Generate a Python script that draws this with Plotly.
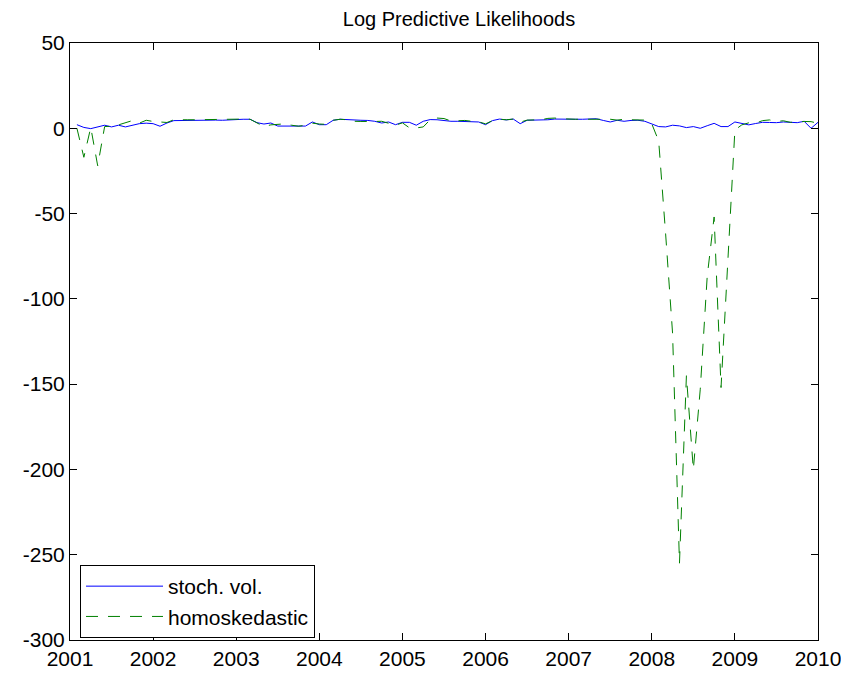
import plotly.graph_objects as go

# Monthly observations, Feb 2001 .. Jan 2010 (index k = 1..108 months after Jan 2001)
months = list(range(1, 109))
dates = [2001 + k / 12 for k in months]

stoch_vol = [
    2.1, 0.5, -0.2, 0.6, 1.8, 0.8, 1.8, 0.8, 1.8, 2.7, 3.0, 2.7,
    1.2, 3.1, 4.5, 4.6, 4.7, 4.8, 4.9, 4.9, 4.8, 4.7, 5.0, 5.2,
    5.3, 5.3, 3.3, 2.5, 3.1, 1.3, 1.2, 1.2, 1.2, 1.3, 3.7, 2.1,
    2.1, 4.7, 5.3, 5.0, 4.7, 4.7, 4.6, 4.1, 3.1, 3.7, 2.1, 3.5,
    3.5, 1.8, 4.1, 5.1, 5.0, 4.5, 4.1, 4.1, 4.1, 4.0, 3.7, 2.1,
    4.5, 5.4, 4.9, 5.4, 2.7, 4.7, 4.7, 4.7, 5.0, 5.4, 5.5, 5.4,
    5.3, 5.3, 5.3, 5.6, 4.6, 3.7, 4.7, 4.1, 4.6, 4.7, 4.1, 2.5,
    1.0, 0.8, 1.8, 1.4, 0.4, 1.0, 0.0, 1.5, 2.9, 1.0, 1.0, 3.7,
    2.9, 2.0, 2.8, 3.5, 3.4, 3.3, 3.7, 3.4, 3.3, 4.1, 0.0, 3.5,
]

homoskedastic = [
    0.0, -17.0, 0.5, -22.0, 1.0, 1.2, 2.0, 3.2, 4.5, 3.0, 4.7, 4.0,
    3.5, 3.4, 5.0, 4.8, 5.0, 5.0, 5.1, 5.0, 5.0, 5.2, 5.5, 5.5,
    5.4, 5.3, 3.0, 1.0, 2.0, 2.2, 2.6, 1.8, 1.2, 1.8, 3.0, 2.5,
    2.3, 4.7, 5.3, 5.0, 4.1, 4.0, 3.8, 4.0, 4.1, 3.0, 1.8, 3.2,
    0.3, 0.2, 0.8, 5.0, 6.0, 5.7, 4.3, 4.4, 4.6, 4.1, 3.8, 2.6,
    4.5, 5.3, 5.0, 5.4, 3.6, 4.8, 4.8, 5.0, 5.8, 6.0, 5.6, 5.3,
    5.3, 5.3, 5.3, 5.5, 5.3, 5.3, 4.8, 5.3, 5.0, 4.8, 4.8, 2.6,
    -7.5, -62.0, -120.0, -255.0, -145.0, -200.0, -153.0, -87.0, -52.0, -152.0, -78.0, -1.0,
    2.0, 3.2, 3.0, 4.5, 4.9, 4.0, 4.4, 3.5, 3.6, 4.0, 3.9, 2.9,
]

year_ticks = [2001, 2002, 2003, 2004, 2005, 2006, 2007, 2008, 2009, 2010]
y_ticks = [-300, -250, -200, -150, -100, -50, 0, 50]

FONT = "Liberation Sans, Arial, Helvetica, sans-serif"

# The page body adds an 8px margin; the figure origin sits at (8, 8) in the window.
FIG_W, FIG_H = 841, 662

fig = go.Figure()
fig.add_trace(go.Scatter(
    x=dates, y=stoch_vol, mode="lines", name="stoch. vol.",
    line=dict(color="#0000FF", width=1),
))
fig.add_trace(go.Scatter(
    x=dates, y=homoskedastic, mode="lines", name="homoskedastic",
    line=dict(color="#008000", width=1, dash="12px,10px"),
))

axis_common = dict(
    showline=True, linecolor="black", linewidth=1, mirror="ticks",
    ticks="inside", ticklen=7, tickcolor="black", tickwidth=1,
    showgrid=False, zeroline=False, automargin=False,
    tickfont=dict(family=FONT, size=21, color="black"),
)

fig.update_layout(
    width=FIG_W, height=FIG_H,
    paper_bgcolor="white", plot_bgcolor="white",
    margin=dict(l=62, r=31, t=35, b=30, autoexpand=False),
    title=dict(
        text="Log Predictive Likelihoods",
        x=451 / FIG_W, xref="container", xanchor="center",
        y=1 - 4 / FIG_H, yref="container", yanchor="top",
        font=dict(family=FONT, size=20, color="black"),
    ),
    xaxis=dict(range=[2001, 2010], tickmode="array", tickvals=year_ticks,
               ticktext=[str(y) for y in year_ticks], **axis_common),
    yaxis=dict(range=[-300, 50], tickmode="array", tickvals=y_ticks,
               ticktext=[str(v) for v in y_ticks], **axis_common),
    legend=dict(
        x=10 / 748, y=2 / 597, xanchor="left", yanchor="bottom",
        bordercolor="black", borderwidth=1, bgcolor="white",
        font=dict(family=FONT, size=21, color="black"),
        itemwidth=77, tracegroupgap=0,
    ),
    showlegend=True,
)

fig.write_html("out.html")
